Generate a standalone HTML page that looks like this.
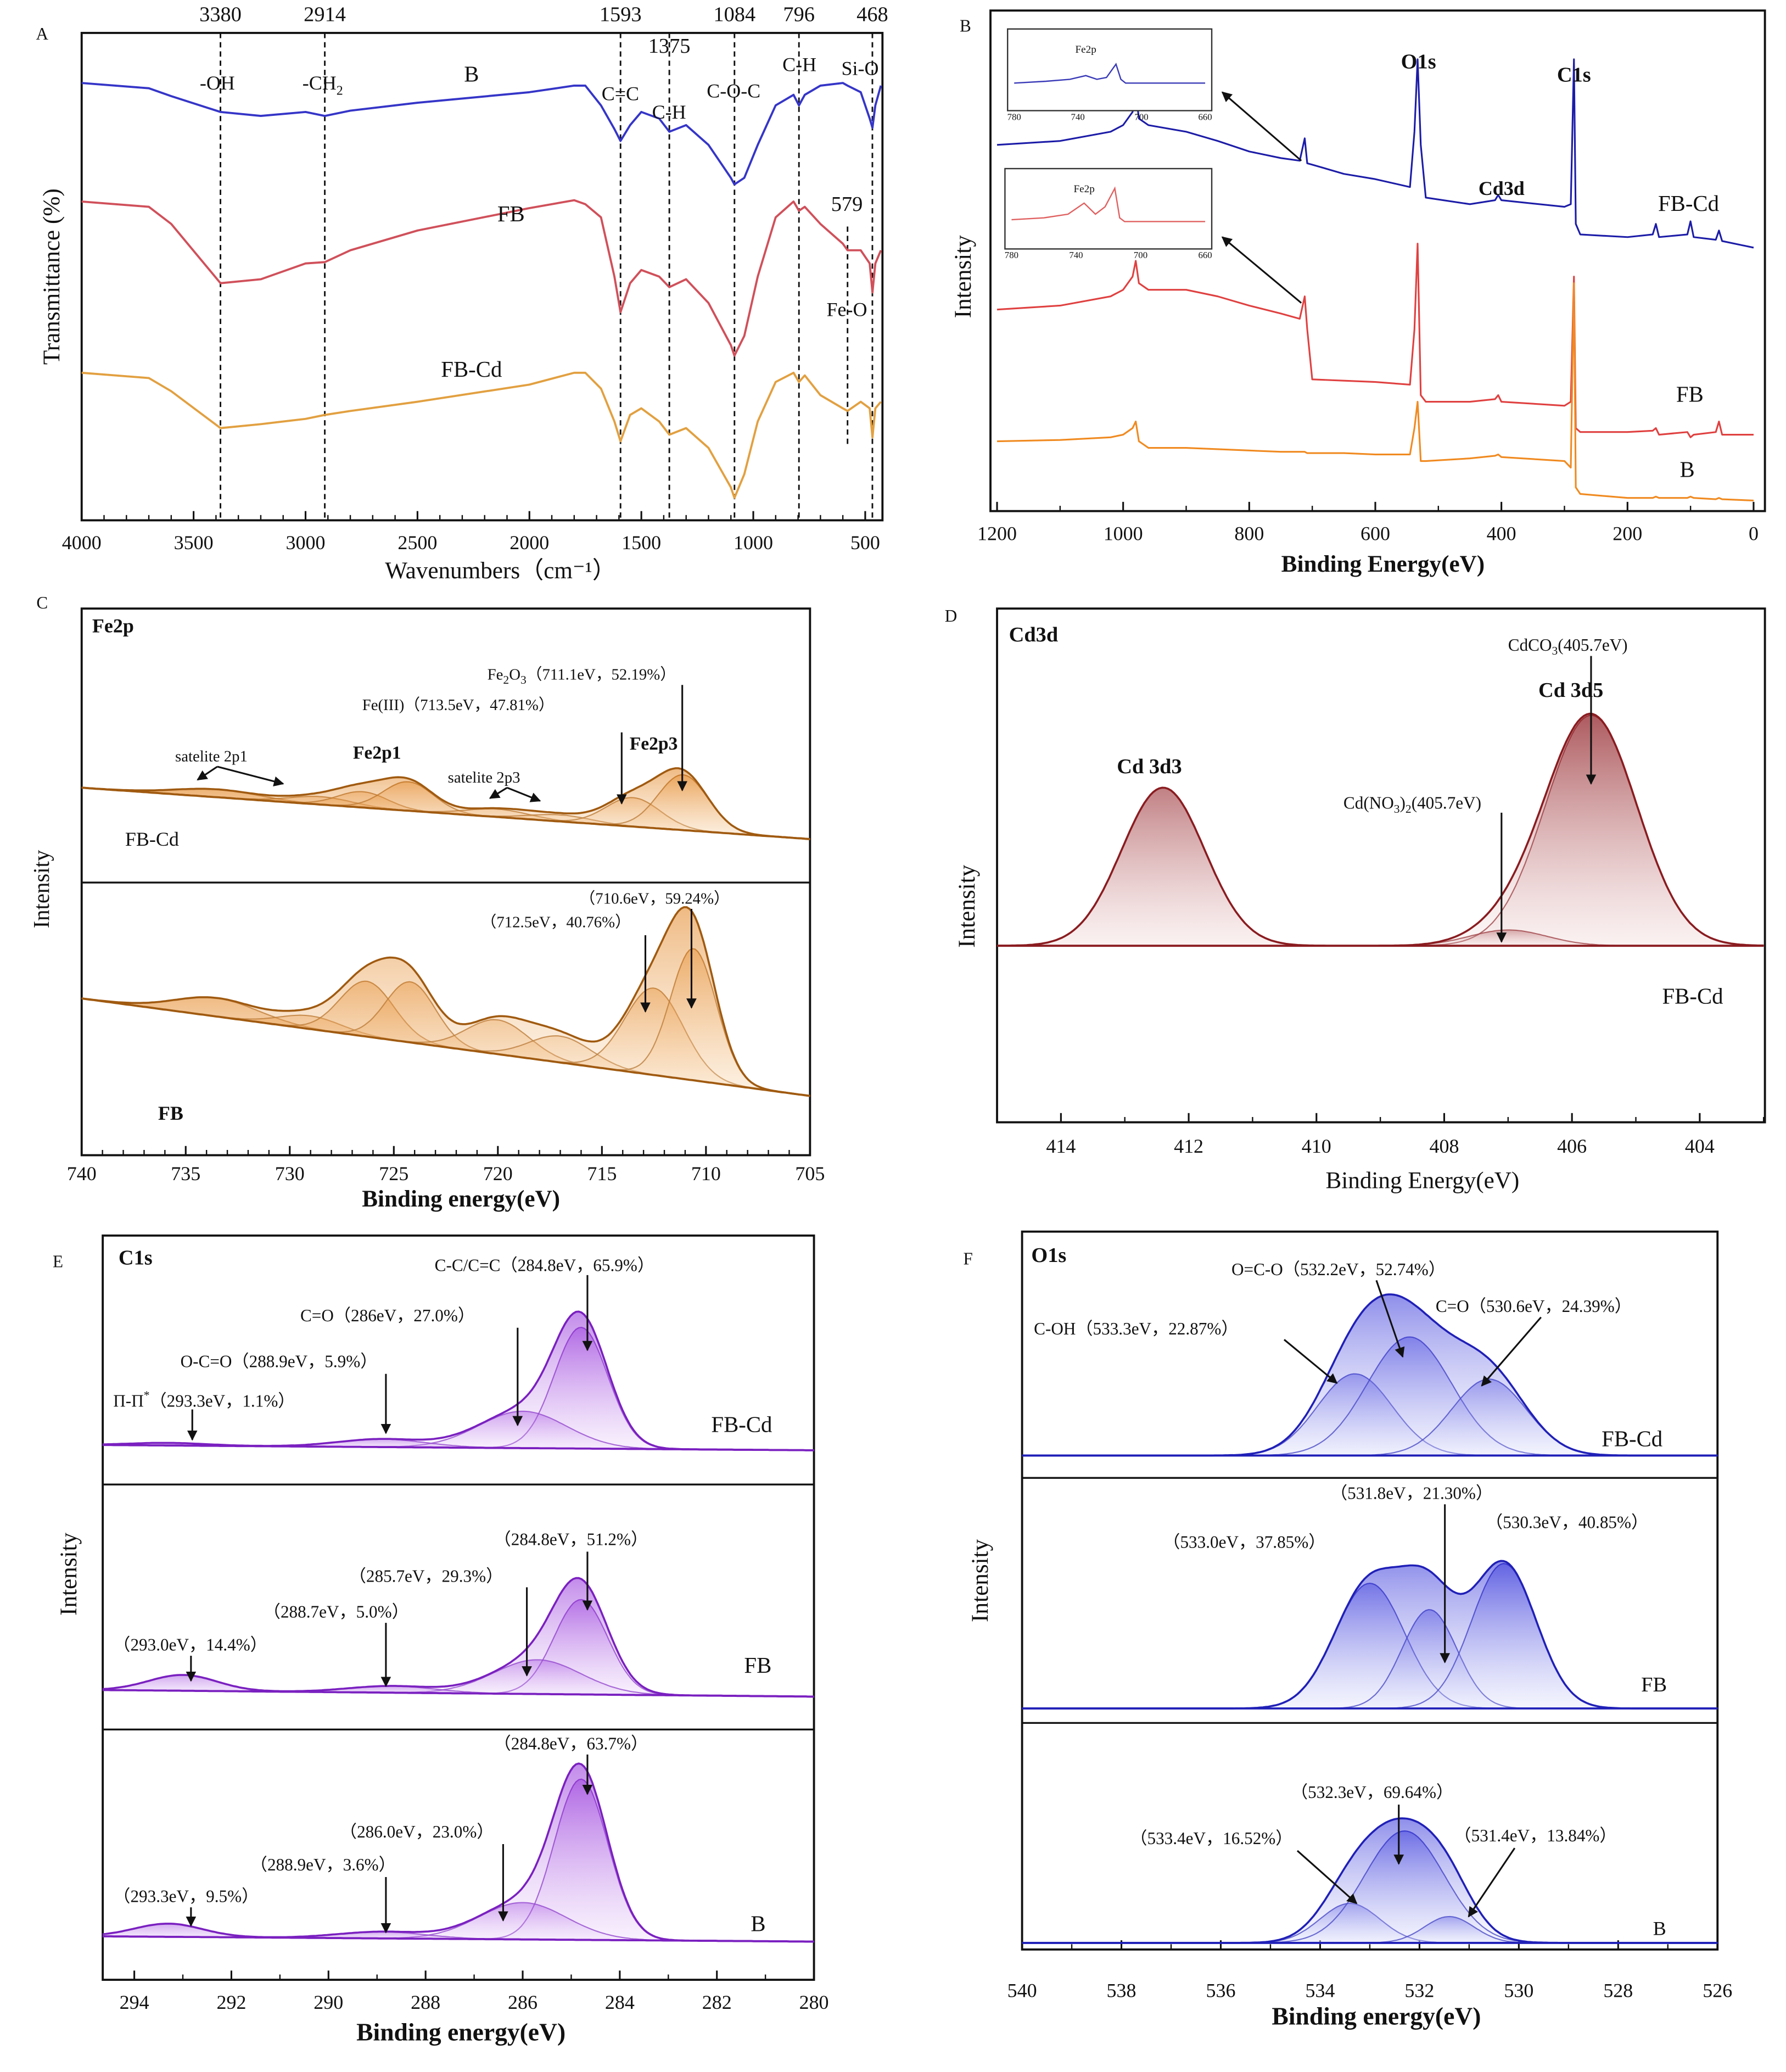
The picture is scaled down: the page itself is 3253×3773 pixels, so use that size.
<!DOCTYPE html>
<html><head><meta charset="utf-8"><style>
html,body{margin:0;padding:0;background:#fff;}
svg{display:block;}
text{font-family:"Liberation Serif",serif;fill:#111;}
</style></head><body>
<svg id="fig" xmlns="http://www.w3.org/2000/svg" width="3253" height="3773" viewBox="0 0 1356 1573" preserveAspectRatio="none">
<defs>
<linearGradient id="gOr" x1="0" y1="0" x2="0" y2="1"><stop offset="0" stop-color="#e07a10" stop-opacity="0.95"/><stop offset="1" stop-color="#fbe2c4" stop-opacity="0.5"/></linearGradient>
<linearGradient id="gRd" x1="0" y1="0" x2="0" y2="1"><stop offset="0" stop-color="#8e1c22" stop-opacity="0.95"/><stop offset="1" stop-color="#f3dada" stop-opacity="0.4"/></linearGradient>
<linearGradient id="gPu" x1="0" y1="0" x2="0" y2="1"><stop offset="0" stop-color="#8a1fd6" stop-opacity="0.95"/><stop offset="1" stop-color="#efdcfb" stop-opacity="0.4"/></linearGradient>
<linearGradient id="gBl" x1="0" y1="0" x2="0" y2="1"><stop offset="0" stop-color="#2626d8" stop-opacity="0.95"/><stop offset="1" stop-color="#e0e2fb" stop-opacity="0.4"/></linearGradient>
<marker id="arr" viewBox="0 0 10 10" refX="9" refY="5" markerWidth="6" markerHeight="6" orient="auto"><path d="M0,0 L10,5 L0,10 z" fill="#111"/></marker>
</defs>
<g id="root"></g>
</svg>
<script>
// ---------- Panel A (FTIR) data ----------
const aWave = [4000,3700,3600,3380,3200,3000,2914,2800,2500,2000,1800,1750,1680,1620,1593,1550,1500,1420,1375,1300,1200,1100,1084,1040,980,900,820,796,770,700,600,579,520,480,468,455,430];
const aB    = [332,328,322,310,307,310,307,311,317,325,330,330,315,297,288,300,310,305,295,300,285,260,255,260,285,315,323,315,323,330,332,330,325,305,298,315,330];
const aFB   = [242,238,225,180,183,195,196,205,220,237,243,240,230,185,158,180,190,185,177,183,165,133,125,140,185,230,242,235,238,225,210,205,205,195,173,195,205];
const aFBCd = [112,108,98,70,73,77,80,83,90,103,112,112,100,75,60,80,85,75,65,70,55,25,17,35,75,105,112,105,110,95,85,83,90,85,63,85,90];
const aTicks = [4000,3500,3000,2500,2000,1500,1000,500];
const aMarks = [3380,2914,1593,1375,1084,796,468];
// ---------- Panel B (survey) data ----------
const bE = [1200,1100,1020,1000,985,980,975,960,900,850,800,750,720,712,708,700,650,600,545,538,533,528,520,450,410,405,400,300,290,285,282,275,200,160,155,150,105,100,95,60,55,50,0];
const bFBCd = [290,293,300,305,315,330,310,305,300,293,285,280,278,295,276,275,268,264,258,300,355,290,250,245,248,252,248,243,245,355,230,222,220,222,230,220,222,232,220,218,225,217,212];
const bFB   = [165,168,175,180,190,202,185,180,180,175,168,162,158,175,150,112,111,110,108,150,215,100,95,95,97,100,95,92,95,190,75,72,72,73,75,70,72,68,70,72,80,70,70];
const bB    = [65,66,68,70,75,80,65,60,60,59,58,57,57,57,56,56,56,55,55,75,95,50,50,52,54,55,53,50,45,185,30,25,22,22,23,22,22,23,22,21,22,21,20];
const bTicks = [1200,1000,800,600,400,200,0];
const insE = [780,760,745,735,728,722,716,713,710,700,680,660];
const insFBCd = [2,3,4,6,4,5,12,4,2,2,2,2];
const insFB = [3,4,6,12,6,10,20,4,2,2,2,2];
// ---------- Panel C (Fe2p) ----------
const cTicks = [740,735,730,725,720,715,710,705];
const cCdCenters = [733.5,728.5,726.5,724.3,720,717,713.5,711.1];
const cCdHeights = [6,6,12,22,6,5,22,42];
const cCdSigmas  = [2,1.5,1.2,1.2,1.5,1.5,1.3,1.2];
const cFBCenters = [733.5,729,726.3,724.2,720,717,712.5,710.6];
const cFBHeights = [14,10,42,46,26,20,66,100];
const cFBSigmas  = [2,1.5,1.3,1.2,1.5,1.5,1.4,1.1];
// ---------- Panel D (Cd3d) ----------
const dTicks = [414,412,410,408,406,404];
const dCenters = [412.4,405.7,407.0];
const dHeights = [120,175,12];
const dSigmas  = [0.65,0.72,0.6];
// ---------- Panel E (C1s) ----------
const eTicks = [294,292,290,288,286,284,282,280];
const eCdCenters=[284.8,286.0,288.9,293.3], eCdHeights=[92,28,6,2], eCdSigmas=[0.55,0.9,0.9,0.8];
const eFBCenters=[284.8,285.7,288.7,293.0], eFBHeights=[72,26,5,12], eFBSigmas=[0.55,0.9,0.9,0.7];
const eBCenters=[284.8,286.0,288.9,293.3], eBHeights=[122,28,5,10], eBSigmas=[0.55,0.9,0.9,0.7];
// ---------- Panel F (O1s) ----------
const fTicks = [540,538,536,534,532,530,528,526];
const fCdCenters=[533.3,532.2,530.6], fCdHeights=[62,90,58], fCdSigmas=[0.75,0.85,0.75];
const fFBCenters=[533.0,531.8,530.3], fFBHeights=[95,75,110], fFBSigmas=[0.7,0.55,0.65];
const fBCenters=[533.4,532.3,531.4], fBHeights=[30,85,20], fBSigmas=[0.6,0.8,0.5];

const NS="http://www.w3.org/2000/svg";
const root=document.getElementById('root');
function el(tag,attrs,parent){const e=document.createElementNS(NS,tag);for(const k in attrs)e.setAttribute(k,attrs[k]);(parent||root).appendChild(e);return e;}
function lin(d0,d1,r0,r1){return v=>r0+(v-d0)/(d1-d0)*(r1-r0);}
function txt(x,y,s,size,opts){opts=opts||{};const t=el('text',{x:x,y:y,'font-size':size,'text-anchor':opts.anchor||'middle'});if(opts.bold)t.setAttribute('font-weight','bold');if(opts.rot)t.setAttribute('transform','rotate(-90 '+x+' '+y+')');if(opts.html)t.innerHTML=s;else t.textContent=s;return t;}
function box(x0,y0,x1,y1,name){const r=el('rect',{x:x0,y:y0,width:x1-x0,height:y1-y0,fill:'none',stroke:'#111','stroke-width':1.6});}
function xAxis(ticks,xs,yb,ly,minorStep,d0,d1,name){const g=el('g',{});
 ticks.forEach(t=>{const x=xs(t);el('line',{x1:x,y1:yb,x2:x,y2:yb-7,stroke:'#111','stroke-width':1.3},g);const tt=el('text',{x:x,y:ly,'font-size':15,'text-anchor':'middle'},g);tt.textContent=t;});
 if(minorStep){const lo=Math.min(d0,d1),hi=Math.max(d0,d1);for(let v=Math.ceil(lo/minorStep)*minorStep;v<=hi;v+=minorStep){const x=xs(v);el('line',{x1:x,y1:yb,x2:x,y2:yb-4,stroke:'#111','stroke-width':1},g);}}}
function poly(xsArr,ysArr,xs,ys,color,name,w){let d='';xsArr.forEach((v,i)=>{d+=(i?'L':'M')+xs(v).toFixed(1)+','+ys(ysArr[i]).toFixed(1);});const p=el('path',{d:d,fill:'none',stroke:color,'stroke-width':w||1.6,'stroke-linejoin':'round'});return p;}
function arrow(x1,y1,x2,y2){const a=el('line',{x1:x1,y1:y1,x2:x2,y2:y2,stroke:'#111','stroke-width':1.3,'marker-end':'url(#arr)'});}
function gauss(x,c,h,s){return h*Math.exp(-(x-c)*(x-c)/(2*s*s));}
function peaks(d0,d1,xs,base,C,H,S,grad,lineCol,name){
 const g=el('g',{});
 const N=260;const pts=[];for(let i=0;i<=N;i++){pts.push(d0+(d1-d0)*i/N);}
 C.forEach((c,k)=>{let d='';pts.forEach((x,i)=>{d+=(i?'L':'M')+xs(x).toFixed(1)+','+(base(x)-gauss(x,c,H[k],S[k])).toFixed(1);});
  let f=d;for(let i=N;i>=0;i--){f+='L'+xs(pts[i]).toFixed(1)+','+base(pts[i]).toFixed(1);}
  const pf=el('path',{d:f+'Z',fill:grad,'fill-opacity':0.45,stroke:'none'},g);
  const pl=el('path',{d:d,fill:'none',stroke:lineCol,'stroke-width':0.9,'stroke-opacity':0.8},g);});
 let d='';pts.forEach((x,i)=>{let s=0;C.forEach((c,k)=>s+=gauss(x,c,H[k],S[k]));d+=(i?'L':'M')+xs(x).toFixed(1)+','+(base(x)-s).toFixed(1);});
 let f=d;for(let i=N;i>=0;i--){f+='L'+xs(pts[i]).toFixed(1)+','+base(pts[i]).toFixed(1);}
 const ef=el('path',{d:f+'Z',fill:grad,'fill-opacity':0.55,stroke:'none'},g);
 const el2=el('path',{d:d,fill:'none',stroke:lineCol,'stroke-width':1.5},g);
 let bd='';pts.forEach((x,i)=>{bd+=(i?'L':'M')+xs(x).toFixed(1)+','+base(x).toFixed(1);});
 const bl=el('path',{d:bd,fill:'none',stroke:lineCol,'stroke-width':1.6},g);}

// ===== Panel A =====
txt(32,30,'A',13,{name:'panel-label-a'});
const axA=lin(4000,423,62,670), ayA=lin(0,370,395,25);
box(62,25,670,395,'panel-a-frame');
xAxis(aTicks,axA,395,417,100,4000,423,'panel-a-x-axis');
aMarks.forEach(m=>{const l=el('line',{x1:axA(m),y1:25,x2:axA(m),y2:395,stroke:'#111','stroke-width':1.2,'stroke-dasharray':'4,3'});});
{const l=el('line',{x1:axA(579),y1:172,x2:axA(579),y2:340,stroke:'#111','stroke-width':1.2,'stroke-dasharray':'4,3'});}
aMarks.forEach(m=>{const y=m===1375?40:16;txt(axA(m),y,String(m),16,{name:'marker-value-'+m});});
poly(aWave,aB,axA,ayA,'#3535c8','series-b');
poly(aWave,aFB,axA,ayA,'#d0505a','series-fb');
poly(aWave,aFBCd,axA,ayA,'#e2a040','series-fb-cd');
txt(165,68,'-OH',15,{name:'label-oh'});
txt(245,68,'-CH<tspan font-size="10" dy="4">2</tspan>',15,{name:'label-ch2',html:true});
txt(358,62,'B',17,{name:'series-label-b'});
txt(471,76,'C=C',15,{name:'label-cc'});
txt(508,90,'C-H',15,{name:'label-ch'});
txt(557,74,'C-O-C',15,{name:'label-coc'});
txt(607,54,'C-H',15,{name:'label-ch-796'});
txt(653,57,'Si-O',15,{name:'label-sio'});
txt(643,160,'579',16,{name:'marker-value-579'});
txt(388,168,'FB',17,{name:'series-label-fb'});
txt(643,240,'Fe-O',15,{name:'label-feo'});
txt(358,286,'FB-Cd',17,{name:'series-label-fb-cd'});
txt(45,210,'Transmittance (%)',18,{rot:true,name:'y-axis-title-a'});
txt(380,439,'Wavenumbers（cm⁻¹）',18,{name:'x-axis-title-a'});

// ===== Panel B =====
txt(733,24,'B',13,{name:'panel-label-b'});
const axB=lin(1200,-18,757,1340), ayB=lin(0,390,400,10);
box(752,8,1340,388,'panel-b-frame');
xAxis(bTicks,axB,388,410,100,1200,-18,'panel-b-x-axis');
poly(bE,bFBCd,axB,ayB,'#1c1ca8','series-fb-cd',1.3);
poly(bE,bFB,axB,ayB,'#e04040','series-fb',1.3);
poly(bE,bB,axB,ayB,'#f08a20','series-b',1.3);
function inset(x0,y0,x1,y1,arr,col,name){const g=el('g',{});
 el('rect',{x:x0,y:y0,width:x1-x0,height:y1-y0,fill:'#fff',stroke:'#333','stroke-width':1},g);
 const ix=lin(780,660,x0+5,x1-5), iy=lin(0,25,y1-18,y0+8);
 let d='';insE.forEach((v,i)=>{d+=(i?'L':'M')+ix(v).toFixed(1)+','+iy(arr[i]).toFixed(1);});
 el('path',{d:d,fill:'none',stroke:col,'stroke-width':1},g);
 [780,740,700,660].forEach(t=>{const tt=el('text',{x:ix(t),y:y1+7,'font-size':7,'text-anchor':'middle'},g);tt.textContent=t;});
 const tl=el('text',{x:ix(735),y:y0+18,'font-size':8,'text-anchor':'middle'},g);tl.textContent='Fe2p';}
inset(765,22,920,84,insFBCd,'#3a3ab8','inset-fb-cd');
inset(763,128,920,189,insFB,'#e06060','inset-fb');
arrow(988,122,928,70);arrow(988,230,928,180);
txt(1077,52,'O1s',16,{bold:true,name:'peak-label-o1s'});
txt(1195,62,'C1s',16,{bold:true,name:'peak-label-c1s'});
txt(1140,148,'Cd3d',15,{bold:true,name:'peak-label-cd3d'});
txt(1282,160,'FB-Cd',17,{name:'series-label-fb-cd'});
txt(1283,305,'FB',17,{name:'series-label-fb'});
txt(1281,362,'B',17,{name:'series-label-b'});
txt(737,210,'Intensity',18,{rot:true,name:'y-axis-title-b'});
txt(1050,434,'Binding  Energy(eV)',18,{bold:true,name:'x-axis-title-b'});

// ===== Panel C =====
txt(32,462,'C',13,{name:'panel-label-c'});
const axC=lin(740,705,62,615);
box(62,462,615,877,'panel-c-frame');
{const l=el('line',{x1:62,y1:670,x2:615,y2:670,stroke:'#111','stroke-width':1.4});}
xAxis(cTicks,axC,877,896,1,740,705,'panel-c-x-axis');
peaks(740,705,axC,x=>598+(axC(x)-62)/553*39,cCdCenters,cCdHeights,cCdSigmas,'url(#gOr)','#a05a10','fe2p-fb-cd-fit');
peaks(740,705,axC,x=>758+(axC(x)-62)/553*74,cFBCenters,cFBHeights,cFBSigmas,'url(#gOr)','#a05a10','fe2p-fb-fit');
txt(70,480,'Fe2p',15,{bold:true,anchor:'start',name:'panel-c-title'});
txt(370,516,'Fe<tspan font-size="9" dy="3">2</tspan><tspan dy="-3">O</tspan><tspan font-size="9" dy="3">3</tspan><tspan dy="-3">（711.1eV，52.19%）</tspan>',12,{anchor:'start',html:true,name:'annot-fe2o3'});
txt(275,539,'Fe(III)（713.5eV，47.81%）',12,{anchor:'start',name:'annot-fe3'});
txt(133,578,'satelite 2p1',12,{anchor:'start',name:'annot-sat-2p1'});
txt(268,576,'Fe2p1',14,{anchor:'start',bold:true,name:'annot-fe2p1'});
txt(340,594,'satelite 2p3',12,{anchor:'start',name:'annot-sat-2p3'});
txt(478,569,'Fe2p3',14,{anchor:'start',bold:true,name:'annot-fe2p3'});
txt(95,642,'FB-Cd',15,{anchor:'start',name:'series-label-fb-cd'});
txt(440,686,'（710.6eV，59.24%）',12,{anchor:'start',name:'annot-fb-710'});
txt(365,704,'（712.5eV，40.76%）',12,{anchor:'start',name:'annot-fb-712'});
txt(120,850,'FB',15,{anchor:'start',bold:true,name:'series-label-fb'});
arrow(518,520,518,600);arrow(472,556,472,610);arrow(525,690,525,765);arrow(490,710,490,768);
arrow(165,582,150,592);arrow(165,582,215,595);arrow(385,598,372,606);arrow(385,598,410,608);
txt(37,675,'Intensity',17,{rot:true,name:'y-axis-title-c'});
txt(350,916,'Binding energy(eV)',18,{bold:true,name:'x-axis-title-c'});

// ===== Panel D =====
txt(722,472,'D',13,{name:'panel-label-d'});
const axD=lin(415,403,757,1339);
box(757,462,1340,852,'panel-d-frame');
xAxis(dTicks,axD,852,875,1,415,403,'panel-d-x-axis');
peaks(415,403,axD,x=>718,dCenters,dHeights,dSigmas,'url(#gRd)','#8a1c20','cd3d-fit');
txt(766,487,'Cd3d',16,{bold:true,anchor:'start',name:'panel-d-title'});
txt(1145,494,'CdCO<tspan font-size="9" dy="3">3</tspan><tspan dy="-3">(405.7eV)</tspan>',13,{anchor:'start',html:true,name:'annot-cdco3'});
txt(1168,529,'Cd 3d5',16,{bold:true,anchor:'start',name:'annot-cd3d5'});
txt(848,587,'Cd 3d3',16,{bold:true,anchor:'start',name:'annot-cd3d3'});
txt(1020,614,'Cd(NO<tspan font-size="9" dy="3">3</tspan><tspan dy="-3">)</tspan><tspan font-size="9" dy="3">2</tspan><tspan dy="-3">(405.7eV)</tspan>',13,{anchor:'start',html:true,name:'annot-cdno3'});
txt(1262,762,'FB-Cd',17,{anchor:'start',name:'series-label-fb-cd'});
arrow(1208,498,1208,595);arrow(1140,617,1140,715);
txt(740,688,'Intensity',18,{rot:true,name:'y-axis-title-d'});
txt(1080,902,'Binding Energy(eV)',18,{name:'x-axis-title-d'});

// ===== Panel E =====
txt(44,962,'E',13,{name:'panel-label-e'});
const axE=lin(294.65,280,78,618);
box(78,938,618,1503,'panel-e-frame');
[1127,1313].forEach(y=>{const l=el('line',{x1:78,y1:y,x2:618,y2:y,stroke:'#111','stroke-width':1.4});});
xAxis(eTicks,axE,1503,1525,1,294.65,280,'panel-e-x-axis');
peaks(294.65,280,axE,x=>1097+(axE(x)-78)/540*4,eCdCenters,eCdHeights,eCdSigmas,'url(#gPu)','#7a20c0','c1s-fb-cd-fit');
peaks(294.65,280,axE,x=>1283+(axE(x)-78)/540*5,eFBCenters,eFBHeights,eFBSigmas,'url(#gPu)','#7a20c0','c1s-fb-fit');
peaks(294.65,280,axE,x=>1470+(axE(x)-78)/540*4,eBCenters,eBHeights,eBSigmas,'url(#gPu)','#7a20c0','c1s-b-fit');
txt(90,960,'C1s',16,{bold:true,anchor:'start',name:'panel-e-title'});
txt(330,965,'C-C/C=C（284.8eV，65.9%）',13,{anchor:'start',name:'annot-cc'});
txt(228,1003,'C=O（286eV，27.0%）',13,{anchor:'start',name:'annot-co'});
txt(137,1038,'O-C=O（288.9eV，5.9%）',13,{anchor:'start',name:'annot-oco'});
txt(86,1068,'Π-Π<tspan font-size="9" dy="-6">*</tspan><tspan dy="6">（293.3eV，1.1%）</tspan>',13,{anchor:'start',html:true,name:'annot-pipi'});
txt(540,1087,'FB-Cd',17,{anchor:'start',name:'series-label-fb-cd'});
arrow(446,968,446,1025);arrow(393,1008,393,1082);arrow(293,1043,293,1088);arrow(146,1070,146,1093);
txt(375,1173,'（284.8eV，51.2%）',13,{anchor:'start',name:'annot-fb-2848'});
txt(265,1201,'（285.7eV，29.3%）',13,{anchor:'start',name:'annot-fb-2857'});
txt(200,1228,'（288.7eV，5.0%）',13,{anchor:'start',name:'annot-fb-2887'});
txt(86,1253,'（293.0eV，14.4%）',13,{anchor:'start',name:'annot-fb-2930'});
txt(565,1270,'FB',17,{anchor:'start',name:'series-label-fb'});
arrow(446,1178,446,1222);arrow(400,1205,400,1272);arrow(293,1232,293,1280);arrow(145,1257,145,1276);
txt(375,1328,'（284.8eV，63.7%）',13,{anchor:'start',name:'annot-b-2848'});
txt(258,1395,'（286.0eV，23.0%）',13,{anchor:'start',name:'annot-b-2860'});
txt(190,1420,'（288.9eV，3.6%）',13,{anchor:'start',name:'annot-b-2889'});
txt(86,1444,'（293.3eV，9.5%）',13,{anchor:'start',name:'annot-b-2933'});
txt(570,1466,'B',17,{anchor:'start',name:'series-label-b'});
arrow(446,1332,446,1362);arrow(382,1400,382,1458);arrow(293,1425,293,1467);arrow(145,1448,145,1462);
txt(58,1195,'Intensity',18,{rot:true,name:'y-axis-title-e'});
txt(350,1549,'Binding energy(eV)',19,{bold:true,name:'x-axis-title-e'});

// ===== Panel F =====
txt(735,960,'F',13,{name:'panel-label-f'});
const axF=lin(540,526,776,1304);
box(776,935,1304,1480,'panel-f-frame');
[1122,1308].forEach(y=>{const l=el('line',{x1:776,y1:y,x2:1304,y2:y,stroke:'#111','stroke-width':1.4});});
xAxis(fTicks,axF,1480,1516,1,540,526,'panel-f-x-axis');
peaks(540,526,axF,x=>1105,fCdCenters,fCdHeights,fCdSigmas,'url(#gBl)','#2020b8','o1s-fb-cd-fit');
peaks(540,526,axF,x=>1297,fFBCenters,fFBHeights,fFBSigmas,'url(#gBl)','#2020b8','o1s-fb-fit');
peaks(540,526,axF,x=>1475,fBCenters,fBHeights,fBSigmas,'url(#gBl)','#2020b8','o1s-b-fit');
txt(783,958,'O1s',16,{bold:true,anchor:'start',name:'panel-f-title'});
txt(935,968,'O=C-O（532.2eV，52.74%）',13,{anchor:'start',name:'annot-oco'});
txt(1090,996,'C=O（530.6eV，24.39%）',13,{anchor:'start',name:'annot-co'});
txt(785,1013,'C-OH（533.3eV，22.87%）',13,{anchor:'start',name:'annot-coh'});
txt(1216,1098,'FB-Cd',17,{anchor:'start',name:'series-label-fb-cd'});
arrow(1045,972,1065,1030);arrow(1170,1000,1125,1052);arrow(975,1017,1015,1050);
txt(1010,1138,'（531.8eV，21.30%）',13,{anchor:'start',name:'annot-fb-5318'});
txt(883,1175,'（533.0eV，37.85%）',13,{anchor:'start',name:'annot-fb-5330'});
txt(1128,1160,'（530.3eV，40.85%）',13,{anchor:'start',name:'annot-fb-5303'});
txt(1246,1284,'FB',16,{anchor:'start',name:'series-label-fb'});
arrow(1097,1142,1097,1262);
txt(980,1365,'（532.3eV，69.64%）',13,{anchor:'start',name:'annot-b-5323'});
txt(858,1400,'（533.4eV，16.52%）',13,{anchor:'start',name:'annot-b-5334'});
txt(1104,1398,'（531.4eV，13.84%）',13,{anchor:'start',name:'annot-b-5314'});
txt(1255,1469,'B',15,{anchor:'start',name:'series-label-b'});
arrow(1062,1370,1062,1415);arrow(985,1405,1030,1445);arrow(1150,1403,1115,1455);
txt(750,1200,'Intensity',18,{rot:true,name:'y-axis-title-f'});
txt(1045,1537,'Binding energy(eV)',19,{bold:true,name:'x-axis-title-f'});
</script>
</body></html>
